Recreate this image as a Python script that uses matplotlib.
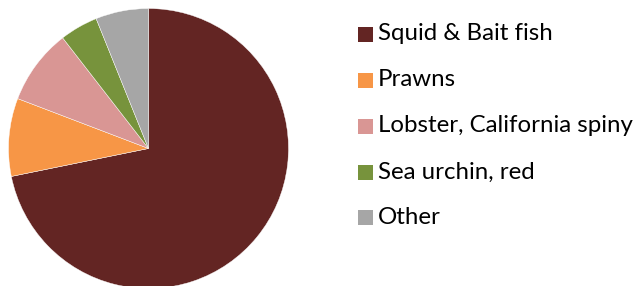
import matplotlib.pyplot as plt
from matplotlib.patches import Rectangle

labels = ["Squid & Bait fish", "Prawns", "Lobster, California spiny", "Sea urchin, red", "Other"]
values = [71.8, 9.0, 8.7, 4.4, 6.1]
colors = ["#632523", "#F79646", "#D99694", "#77933C", "#A6A6A6"]

plt.rcParams['font.family'] = ['Lato', 'DejaVu Sans']

fig = plt.figure(figsize=(6.42, 2.86), dpi=100)
W, H = 642, 286

# pie axes: center (148.5, 148.5) px, radius 140 px
cx, cy, r = 148.5, 148.5, 140
ax = fig.add_axes([(cx - r) / W, (H - cy - r) / H, 2 * r / W, 2 * r / H])
ax.pie(values, colors=colors, startangle=90, counterclock=False,
       wedgeprops=dict(edgecolor="white", linewidth=0.3))
ax.set_xlim(-1, 1)
ax.set_ylim(-1, 1)
ax.set_aspect("equal")
ax.axis("off")

# legend drawn by hand to match row positions
rows_y = [34, 80, 126, 172, 217]
for lab, col, y in zip(labels, colors, rows_y):
    fig.patches.append(Rectangle((358 / W, (H - y - 7.5) / H), 15 / W, 15 / H,
                                 facecolor=col, edgecolor="none",
                                 transform=fig.transFigure, figure=fig))
    fig.text(378 / W, (H - y) / H, lab, fontsize=17.3, va="center", ha="left",
             color="#000000")

fig.savefig("out.png", dpi=100)
